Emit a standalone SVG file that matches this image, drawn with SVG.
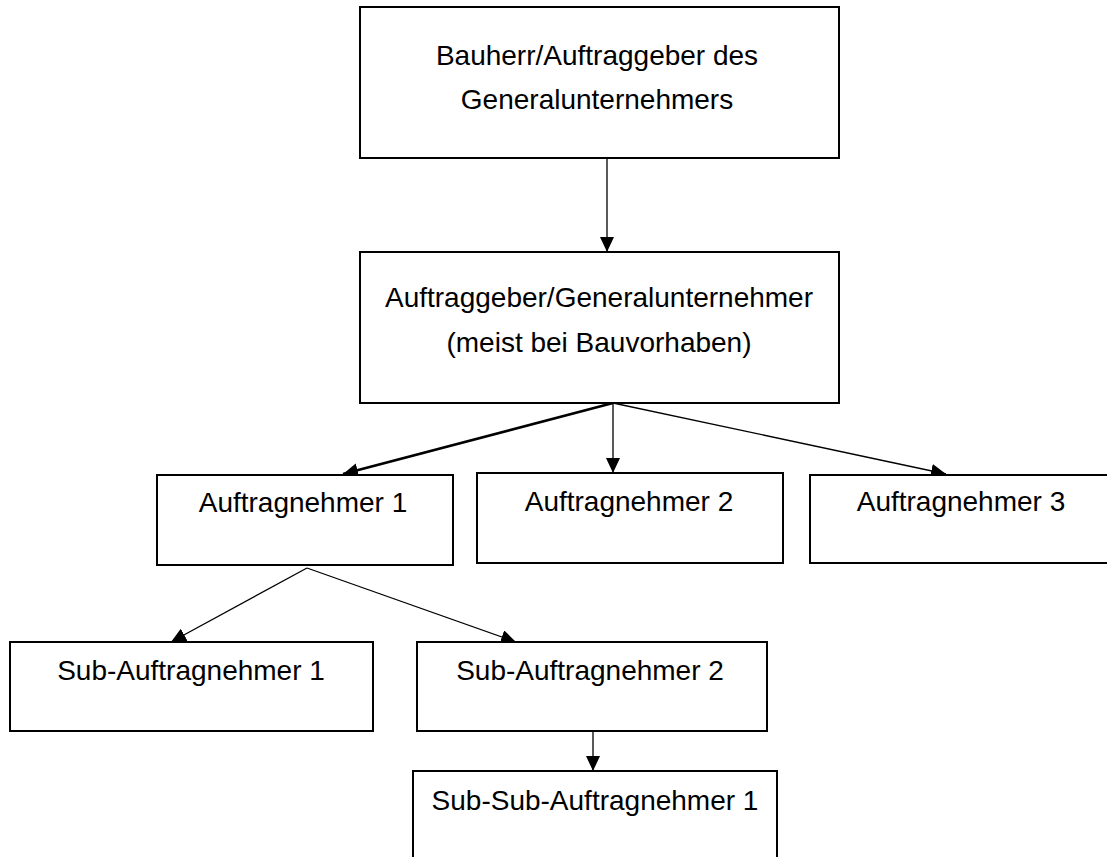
<svg xmlns="http://www.w3.org/2000/svg" width="1107" height="857" viewBox="0 0 1107 857">
<defs>
<marker id="ah" markerUnits="userSpaceOnUse" markerWidth="16" markerHeight="14" refX="15" refY="7" orient="auto">
<path d="M0,0 L15,7 L0,14 z" fill="#000"/>
</marker>
<style>
.box{fill:#fff;stroke:#000;stroke-width:2}
.t{font-family:"Liberation Sans",Arial,sans-serif;font-size:28px;fill:#000;text-anchor:middle}
.c{stroke:#000;stroke-width:1.3;fill:none}
.ct{stroke:#000;stroke-width:2.6;fill:none}
</style>
</defs>
<rect width="1107" height="857" fill="#fff"/>
<g id="connectors">
<line class="c" x1="607" y1="158" x2="607" y2="252" marker-end="url(#ah)"/>
<line class="ct" x1="613" y1="403" x2="343" y2="474" marker-end="url(#ah)"/>
<line class="c" x1="613" y1="403" x2="613" y2="473" marker-end="url(#ah)"/>
<line class="c" x1="613" y1="403" x2="946" y2="474" marker-end="url(#ah)"/>
<line class="c" x1="307" y1="568" x2="171" y2="642" marker-end="url(#ah)"/>
<line class="c" x1="307" y1="568" x2="516" y2="642" marker-end="url(#ah)"/>
<line class="c" x1="593" y1="731" x2="593" y2="771" marker-end="url(#ah)"/>
</g>
<g id="bauherr">
<rect class="box" x="360" y="7" width="479" height="151"/>
<text class="t" x="597" y="65">Bauherr/Auftraggeber des</text>
<text class="t" x="597" y="109">Generalunternehmers</text>
</g>
<g id="generalunternehmer">
<rect class="box" x="360" y="252" width="479" height="151"/>
<text class="t" x="599" y="307">Auftraggeber/Generalunternehmer</text>
<text class="t" x="599" y="352">(meist bei Bauvorhaben)</text>
</g>
<g id="auftragnehmer1">
<rect class="box" x="157" y="475" width="296" height="90"/>
<text class="t" x="303" y="512">Auftragnehmer 1</text>
</g>
<g id="auftragnehmer2">
<rect class="box" x="477" y="473" width="306" height="90"/>
<text class="t" x="629" y="511">Auftragnehmer 2</text>
</g>
<g id="auftragnehmer3">
<rect class="box" x="810" y="475" width="300" height="88"/>
<text class="t" x="961" y="511">Auftragnehmer 3</text>
</g>
<g id="sub1">
<rect class="box" x="10" y="642" width="363" height="89"/>
<text class="t" x="191" y="680">Sub-Auftragnehmer 1</text>
</g>
<g id="sub2">
<rect class="box" x="417" y="642" width="350" height="89"/>
<text class="t" x="590" y="680">Sub-Auftragnehmer 2</text>
</g>
<g id="subsub1">
<rect class="box" x="413" y="771" width="364" height="92"/>
<text class="t" x="595" y="810">Sub-Sub-Auftragnehmer 1</text>
</g>
</svg>
